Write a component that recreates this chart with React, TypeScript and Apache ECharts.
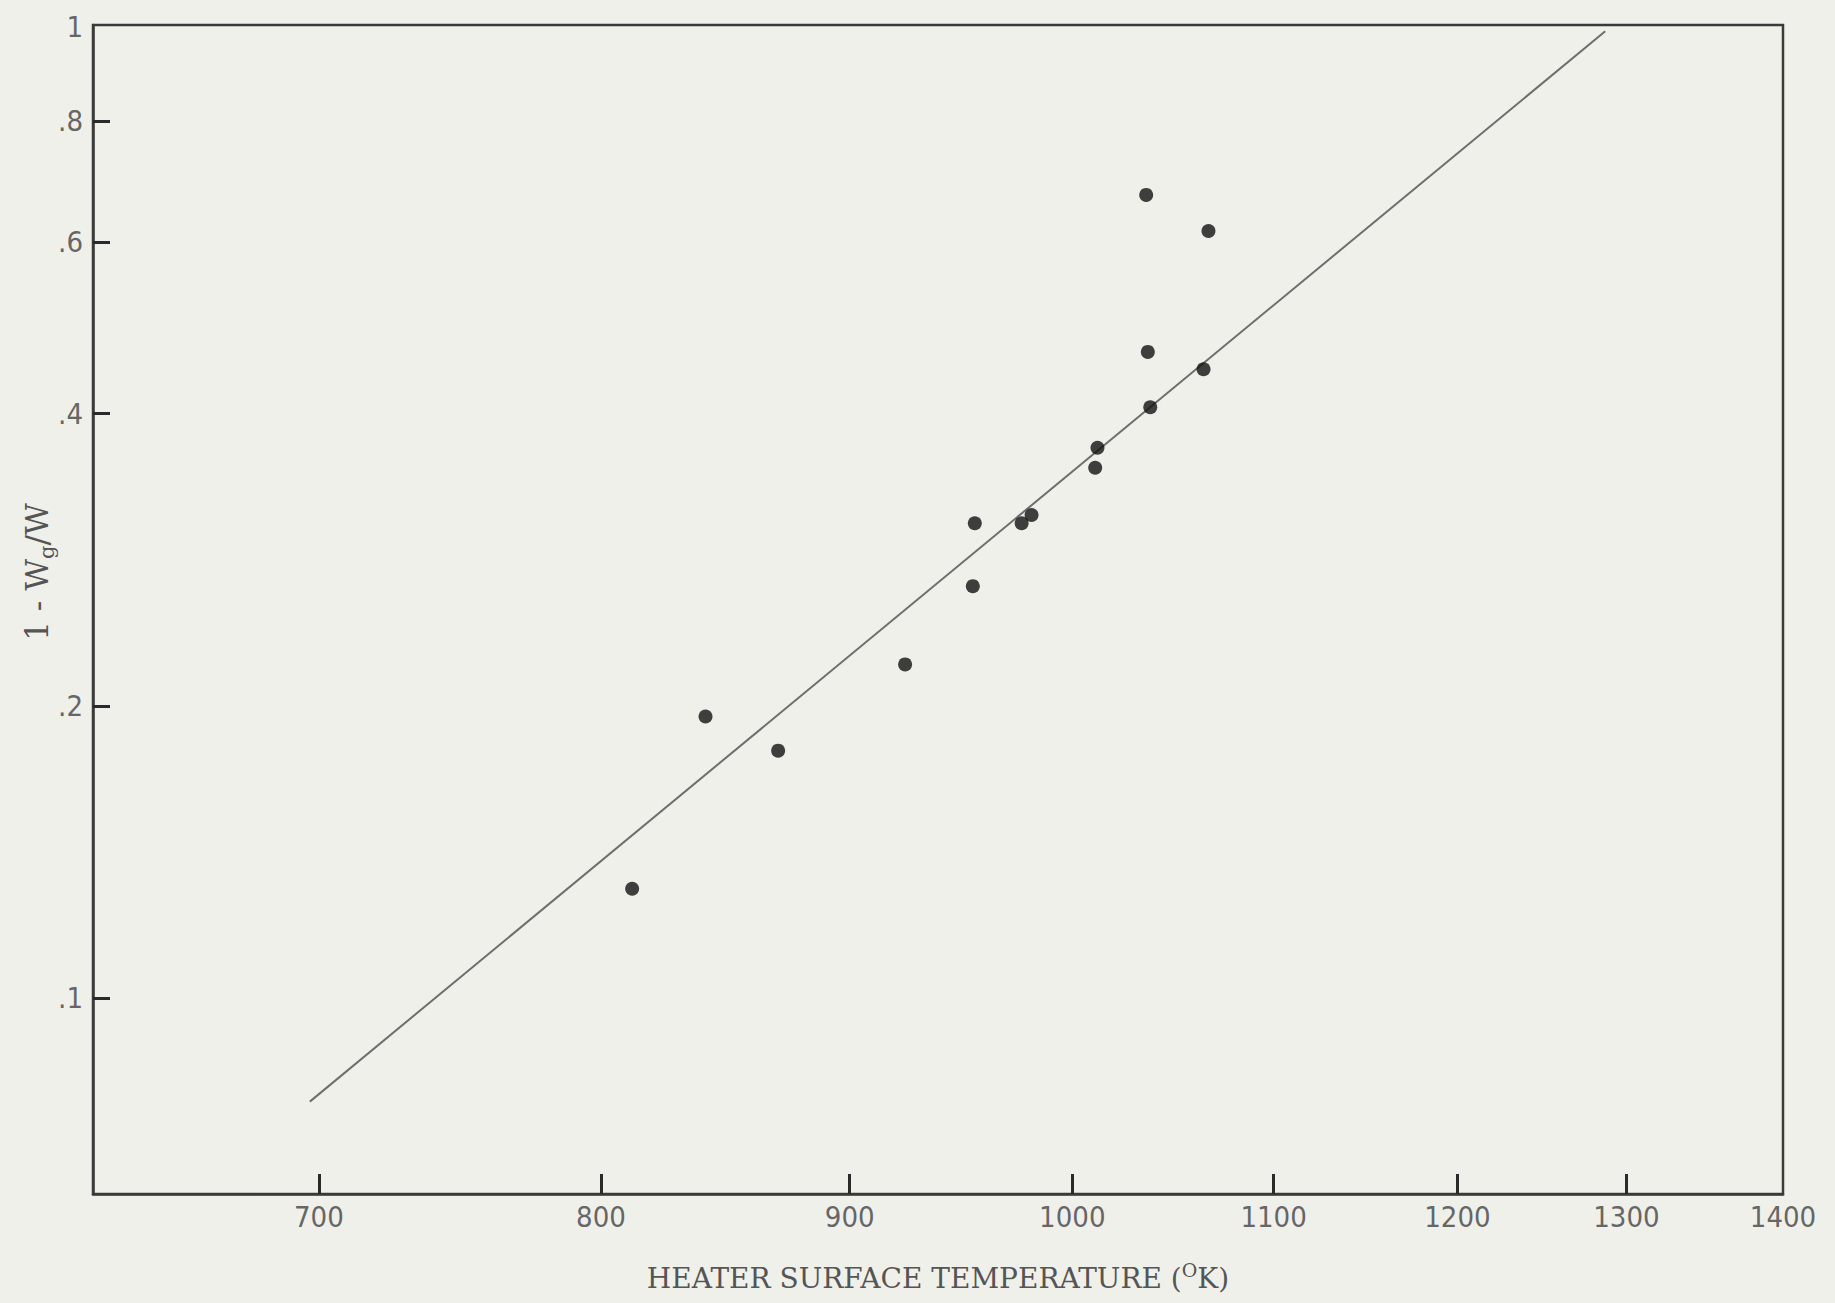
import React, { useEffect, useRef } from 'react';
import * as echarts from 'echarts';

// Heater surface temperature (K) of each measured point
const temperatures = [811.9, 840.6, 870.0, 923.9, 954.0, 954.9, 976.3, 980.9, 1010.9, 1012.0, 1036.4, 1037.6, 1035.6, 1064.1, 1066.6];
// 1 - Wg/W of each measured point
const fractions = [0.1297, 0.1951, 0.1799, 0.2207, 0.2657, 0.3084, 0.3084, 0.3145, 0.3518, 0.3689, 0.4629, 0.406, 0.6716, 0.4443, 0.6166];
// fitted straight line (log-log) end points
const fitTemperatures = [697, 1287];
const fitFractions = [0.0783, 0.99];
// axis ticks
const xTickLabels = [700, 800, 900, 1000, 1100, 1200, 1300, 1400];
const xTickMarks = [700, 800, 900, 1000, 1100, 1200, 1300];
const yTickLabels = [0.1, 0.2, 0.4, 0.6, 0.8, 1];
const yTickMarks = [0.1, 0.2, 0.4, 0.6, 0.8];
const X_MIN = 629;
const X_MAX = 1400;
const Y_MIN = 0.0629;
const Y_MAX = 1.0047;

const lg = (v: number) => Math.log10(v);

export default function App() {
  const ref = useRef<HTMLDivElement>(null);
  useEffect(() => {
    document.body.style.margin = '0';
    document.body.style.background = '#f0f0eb';
    if (!ref.current) return;
    const chart = echarts.init(ref.current, null, { renderer: 'svg' });
    const bg = '#f0f0eb';
    const axisColor = '#3a3a3a';
    const titleFont = '"DejaVu Serif", serif';
    const labelStyle = {
      fontFamily: '"DejaVu Sans Condensed", "DejaVu Sans Mono", monospace',
      fontSize: 29,
      color: '#666',
    };
    const points = temperatures.map((t, i) => [lg(t), lg(fractions[i])]);
    const fit = fitTemperatures.map((t, i) => [lg(t), lg(fitFractions[i])]);
    chart.setOption({
      animation: false,
      backgroundColor: bg,
      grid: {
        left: 93,
        right: 52,
        top: 25,
        bottom: 109,
        show: true,
        borderColor: axisColor,
        borderWidth: 2.5,
        backgroundColor: 'transparent',
      },
      xAxis: {
        type: 'value',
        position: 'bottom',
        min: lg(X_MIN),
        max: lg(X_MAX),
        name: 'HEATER SURFACE TEMPERATURE ({sup|O}K)',
        nameLocation: 'middle',
        nameGap: 66,
        nameTextStyle: {
          fontFamily: titleFont,
          fontSize: 28,
          color: '#555',
          rich: {
            sup: { fontFamily: titleFont, fontSize: 19, color: '#555', padding: [0, 0, 18, 0] },
          },
        },
        axisLine: { show: true, onZero: false, lineStyle: { color: axisColor, width: 2.5 } },
        axisTick: {
          show: true,
          inside: true,
          length: 20,
          customValues: xTickMarks.map(lg),
          lineStyle: { color: '#2a2a2a', width: 3 },
        },
        axisLabel: {
          ...labelStyle,
          margin: 8,
          showMaxLabel: true,
          showMinLabel: true,
          customValues: xTickLabels.map(lg),
          formatter: (v: number) => String(Math.round(Math.pow(10, v))),
        },
        splitLine: { show: false },
      },
      yAxis: {
        type: 'value',
        position: 'left',
        min: lg(Y_MIN),
        max: lg(Y_MAX),
        axisLine: { show: true, onZero: false, lineStyle: { color: axisColor, width: 2.5 } },
        axisTick: {
          show: true,
          inside: true,
          length: 17,
          customValues: yTickMarks.map(lg),
          lineStyle: { color: '#2a2a2a', width: 3 },
        },
        axisLabel: {
          ...labelStyle,
          margin: 10,
          showMaxLabel: true,
          showMinLabel: true,
          customValues: yTickLabels.map(lg),
          formatter: (v: number) => {
            const r = Math.round(Math.pow(10, v) * 10) / 10;
            return r >= 1 ? '1' : '.' + Math.round(r * 10);
          },
        },
        splitLine: { show: false },
      },
      graphic: [
        {
          type: 'text',
          x: 37,
          y: 572,
          rotation: Math.PI / 2,
          style: {
            text: '1 - W{sub|g}/W',
            fontFamily: titleFont,
            fontSize: 31,
            fill: '#555',
            align: 'center',
            verticalAlign: 'middle',
            rich: {
              sub: { fontFamily: titleFont, fontSize: 21, fill: '#555', padding: [20, 0, 0, 0] },
            },
          },
        },
      ],
      series: [
        {
          type: 'line',
          data: fit,
          showSymbol: false,
          symbol: 'none',
          lineStyle: { color: '#6e6e6e', width: 2 },
          silent: true,
          z: 2,
        },
        {
          type: 'scatter',
          data: points,
          symbol: 'circle',
          symbolSize: 14,
          itemStyle: { color: '#111' },
          z: 3,
        },
      ],
    });
    return () => chart.dispose();
  }, []);
  return <div ref={ref} style={{ width: 1835, height: 1303 }} />;
}
